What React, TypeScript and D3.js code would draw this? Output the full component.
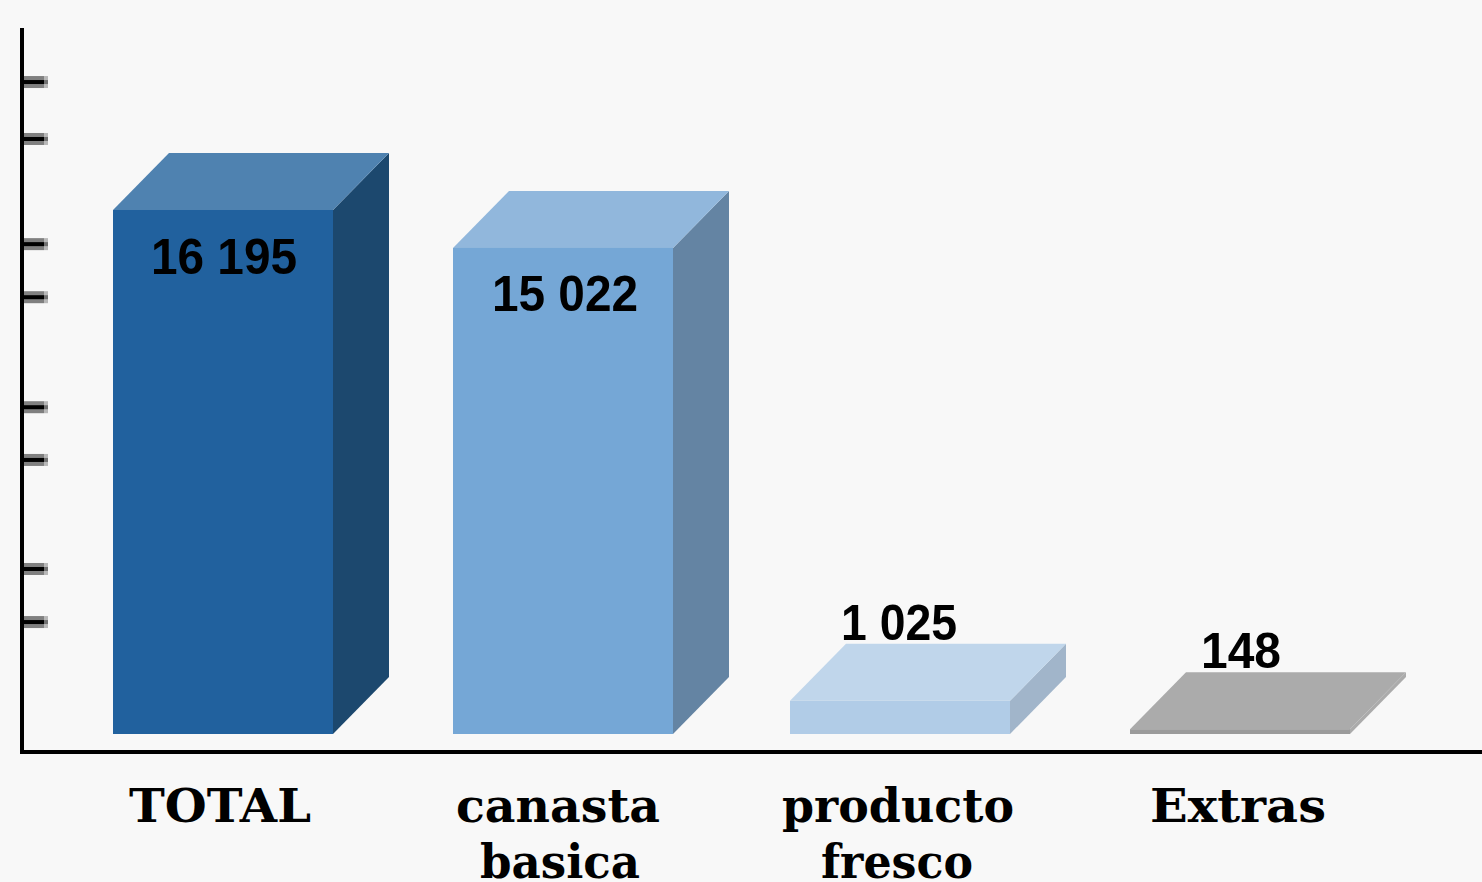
import React from "react";
import * as d3 from "d3";

const categories = [["TOTAL"], ["canasta", "basica"], ["producto", "fresco"], ["Extras"]];
const values = [16195, 15022, 1025, 148];
const valueLabels = ["16 195", "15 022", "1 025", "148"];
const tickValues = [20150, 18390, 15140, 13500, 10100, 8470, 5100, 3460];
const frontColors = ["#21619e", "#75a7d6", "#b1cce7", "#9b9b9b"];
const sideColors = ["#1c486e", "#6484a3", "#a1b5ca", "#ababab"];
const topColors = ["#4f82b0", "#91b7dc", "#c0d6eb", "#ababab"];
const barLeft = [113, 453, 790, 1130];
const labelX = [224, 565, 899, 1241];
const labelW = [146, 146, 116, 80];
const labelOffset = [64, 63, -61, -61];
const catX = [[220], [558, 560], [898, 897], [1238]];
const catW = [[182], [204, 160], [232, 152], [176]];

const W = 1482, H = 882, BASE = 734, BW = 220, DX = 56, DY = 57;
const y = d3.scaleLinear().domain([0, 16195]).range([BASE, 210]);
const pts = (p: number[][]) => p.map((a) => a.join(",")).join(" ");

export default function App() {
  return (
    <svg width={W} height={H} viewBox={`0 0 ${W} ${H}`} style={{ position: "absolute", left: 0, top: 0, display: "block", background: "#f8f8f8" }}>
      <rect x={0} y={0} width={W} height={H} fill="#f8f8f8" />
      {tickValues.map((t) => (
        <g key={t}>
          <rect x={24} y={y(t) - 6} width={20} height={12} fill="#808080" />
          <rect x={44} y={y(t) - 6} width={4} height={12} fill="#b8b8b8" />
          <rect x={24} y={y(t) - 2} width={20} height={4} fill="#000" />
          <rect x={44} y={y(t) - 2} width={4} height={4} fill="#707070" />
        </g>
      ))}
      <rect x={20} y={28} width={4} height={726} fill="#000" />
      <rect x={20} y={750} width={W - 20} height={4} fill="#000" />
      {values.map((v, i) => {
        const x0 = barLeft[i], x1 = x0 + BW, yt = y(v);
        return (
          <g key={i}>
            <polygon points={pts([[x1, yt], [x1 + DX, yt - DY], [x1 + DX, BASE - DY], [x1, BASE]])} fill={sideColors[i]} />
            <polygon points={pts([[x0, yt], [x0 + DX, yt - DY], [x1 + DX, yt - DY], [x1, yt]])} fill={topColors[i]} />
            <rect x={x0} y={yt} width={BW} height={BASE - yt} fill={frontColors[i]} />
            <text x={labelX[i]} y={yt + labelOffset[i]} textAnchor="middle" textLength={labelW[i]} lengthAdjust="spacingAndGlyphs"
              fontFamily="'Liberation Sans'" fontWeight={700} fontSize={50} fill="#000">{valueLabels[i]}</text>
          </g>
        );
      })}
      {categories.map((lines, i) => lines.map((s, j) => (
        <text key={s} x={catX[i][j]} y={822 + j * 56} textAnchor="middle" textLength={catW[i][j]} lengthAdjust="spacingAndGlyphs"
          fontFamily="'DejaVu Serif'" fontWeight={700} fontSize={46} fill="#000">{s}</text>
      )))}
    </svg>
  );
}
